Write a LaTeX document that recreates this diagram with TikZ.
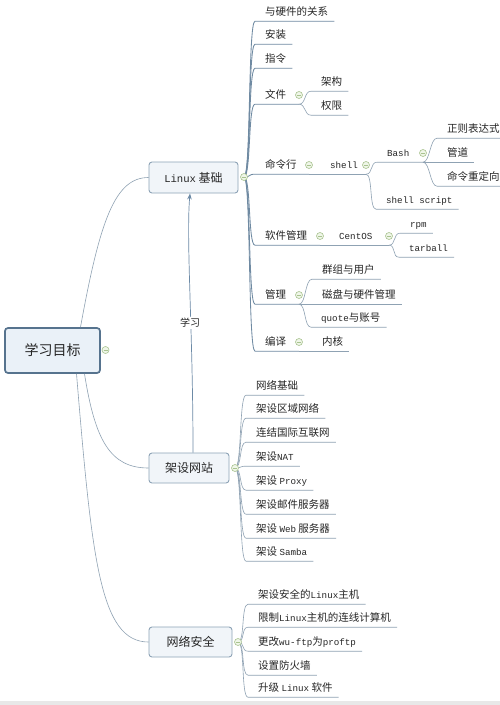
\documentclass[tikz,border=0pt]{standalone}
\usepackage{fontspec}
\setmainfont{Noto Sans CJK SC}
\newfontfamily\monof{Liberation Mono}
\usetikzlibrary{arrows.meta,calc}
\newcommand\tm[1]{{\monof\fontsize{9.2}{10}\selectfont #1}}
\newcommand\tmb[1]{{\monof\fontsize{10.6}{12}\selectfont #1}}
\definecolor{connc}{HTML}{8FA2B3}
\definecolor{connm}{HTML}{6F8AA2}
\definecolor{boxline}{HTML}{8DA3B6}
\definecolor{boxfill}{HTML}{F1F5F9}
\definecolor{rootline}{HTML}{56738E}
\definecolor{rootfill}{HTML}{EAF1F8}
\definecolor{foldline}{HTML}{A9C390}
\definecolor{foldfill}{HTML}{EFF6E8}
\definecolor{txt}{HTML}{262626}
\definecolor{arrc}{HTML}{6C8AA6}
\newcommand\lf[2]{\draw[lk] (#1) .. controls +(7,0) and +(-7,0) .. ([xshift=-10pt]#2.south west) -- ([xshift=6pt]#2.south east);}
\newcommand\pf[3]{\draw[lk] (#1) .. controls +(7,0) and +(-7,0) .. ([xshift=-10pt]#2.south west) -- (#3 |- #2.south);}
\newcommand\lfm[2]{\draw[lkm] (#1) .. controls +(7,0) and +(-7,0) .. ([xshift=-10pt]#2.south west) -- ([xshift=6pt]#2.south east);}
\newcommand\pfm[3]{\draw[lkm] (#1) .. controls +(7,0) and +(-7,0) .. ([xshift=-10pt]#2.south west) -- (#3 |- #2.south);}
\begin{document}
\begin{tikzpicture}[x=1pt,y=-1pt,
  font=\fontsize{10.5}{12}\selectfont,
  leafnode/.style={anchor=west, inner xsep=0pt, inner ysep=4pt, text height=8.5pt, text depth=1.5pt, text=txt},
  l1box/.style={draw=boxline, fill=boxfill, rounded corners=3pt, line width=0.9pt, font=\fontsize{12}{14}\selectfont, text=txt, inner sep=0pt},
  rootnode/.style={l1box, draw=rootline, line width=1.7pt, fill=rootfill, font=\fontsize{14}{16}\selectfont},
  foldc/.style={circle, draw=foldline, fill=foldfill, inner sep=0pt, minimum size=7pt, line width=0.6pt,
    path picture={\draw[foldline, line width=0.7pt] ([xshift=-2pt]path picture bounding box.center) -- ([xshift=2pt]path picture bounding box.center);}},
  lk/.style={draw=connc, line width=0.6pt},
  lkm/.style={draw=connm, line width=0.85pt},
  arr/.style={draw=arrc, line width=0.7pt, -{Stealth[length=6pt,width=4.5pt]}}
]
\useasboundingbox (0,0) rectangle (500,705);
\fill[white] (0,0) rectangle (500,705);
\fill[black!9] (0,701) rectangle (500,705);

% main boxes
\node[rootnode, minimum width=95pt, minimum height=45pt] (root) at (52.5,350.5) {学习目标};
\node[l1box, minimum width=89pt, minimum height=31pt] (lin) at (193.5,177.5) {\tmb{Linux} 基础};
\node[l1box, minimum width=80pt, minimum height=30pt] (web) at (189,468) {架设网站};
\node[l1box, minimum width=83pt, minimum height=30pt] (sec) at (190.5,642) {网络安全};

% fold points
\coordinate (cR) at (105.5,350);
\coordinate (cL) at (244,177);
\coordinate (cW) at (235,468);
\coordinate (cS) at (238,642);
\coordinate (c4) at (299,95);
\coordinate (c5) at (309,165);
\coordinate (c51) at (366,165);
\coordinate (c511) at (423,153);
\coordinate (c6) at (320,236);
\coordinate (c61) at (389,236);
\coordinate (c7) at (299,295);
\coordinate (c8) at (299,342);

% Linux leaves
\node[leafnode] (h1) at (265,12) {与硬件的关系};
\node[leafnode] (h2) at (265,35) {安装};
\node[leafnode] (h3) at (265,59) {指令};
\node[leafnode] (h4) at (265,95) {文件};
\node[leafnode] (h41) at (321,82) {架构};
\node[leafnode] (h42) at (321,106) {权限};
\node[leafnode] (h5) at (265,165) {命令行};
\node[leafnode] (h51) at (330,165) {\tm{shell}};
\node[leafnode] (h511) at (387,153) {\tm{Bash}};
\node[leafnode] (h5111) at (447,129) {正则表达式};
\node[leafnode] (h5112) at (447,153) {管道};
\node[leafnode] (h5113) at (447,177) {命令重定向};
\node[leafnode] (h512) at (386,200) {\tm{shell script}};
\node[leafnode] (h6) at (265,236) {软件管理};
\node[leafnode] (h61) at (339,236) {\tm{CentOS}};
\node[leafnode] (h611) at (410,224) {\tm{rpm}};
\node[leafnode] (h612) at (409,248) {\tm{tarball}};
\node[leafnode] (h7) at (265,295) {管理};
\node[leafnode] (h71) at (322,270) {群组与用户};
\node[leafnode] (h72) at (322,295) {磁盘与硬件管理};
\node[leafnode] (h73) at (321,318) {\tm{quote}与账号};
\node[leafnode] (h8) at (265,342) {编译};
\node[leafnode] (h81) at (322,342) {内核};

% web leaves
\node[leafnode] (w1) at (256,386) {网络基础};
\node[leafnode] (w2) at (256,409) {架设区域网络};
\node[leafnode] (w3) at (256,433) {连结国际互联网};
\node[leafnode] (w4) at (256,457) {架设\tm{NAT}};
\node[leafnode] (w5) at (256,481) {架设 \tm{Proxy}};
\node[leafnode] (w6) at (256,505) {架设邮件服务器};
\node[leafnode] (w7) at (256,529) {架设 \tm{Web} 服务器};
\node[leafnode] (w8) at (256,552) {架设 \tm{Samba}};

% security leaves
\node[leafnode] (s1) at (258,595) {架设安全的\tm{Linux}主机};
\node[leafnode] (s2) at (258,618) {限制\tm{Linux}主机的连线计算机};
\node[leafnode] (s3) at (258,642) {更改\tm{wu-ftp}为\tm{proftp}};
\node[leafnode] (s4) at (258,666) {设置防火墙};
\node[leafnode] (s5) at (258,688) {升级 \tm{Linux} 软件};

% root connectors
\draw[lk] ([xshift=28pt]root.north) .. controls (100,220) and (115,177.5) .. (lin.west);
\draw[lk] ([xshift=32pt]root.south) .. controls (95,440) and (110,468) .. (web.west);
\draw[lk] ([xshift=24pt]root.south) .. controls (92,560) and (100,642) .. (sec.west);

% Linux branch
\lfm{cL}{h1}
\lfm{cL}{h2}
\lfm{cL}{h3}
\pfm{cL}{h4}{c4}
\lf{c4 |- h4.south}{h41}
\lf{c4 |- h4.south}{h42}
\pfm{cL}{h5}{c5}
\pf{c5 |- h5.south}{h51}{c51}
\pf{c51 |- h51.south}{h511}{c511}
\lf{c511 |- h511.south}{h5111}
\lf{c511 |- h511.south}{h5112}
\lf{c511 |- h511.south}{h5113}
\lf{c51 |- h51.south}{h512}
\pfm{cL}{h6}{c6}
\pf{c6 |- h6.south}{h61}{c61}
\lf{c61 |- h61.south}{h611}
\lf{c61 |- h61.south}{h612}
\pfm{cL}{h7}{c7}
\lf{c7 |- h7.south}{h71}
\lf{c7 |- h7.south}{h72}
\lf{c7 |- h7.south}{h73}
\pfm{cL}{h8}{c8}
\lf{c8 |- h8.south}{h81}

% web branch
\foreach \w in {w1,w2,w3,w4,w5,w6,w7,w8} {\lf{cW}{\w}}
% security branch
\foreach \s in {s1,s2,s3,s4,s5} {\lf{cS}{\s}}

% learning arrow
\draw[arr] ([xshift=4pt]web.north) .. controls (193,330) and (186,240) .. ([xshift=-3.5pt]lin.south);
\node[fill=white, inner sep=1pt, text=txt, font=\fontsize{10}{12}\selectfont] (lbl) at (190,323) {学习};

% fold markers
\foreach \c in {cR,cL,cW,cS,c4,c5,c51,c511,c6,c61,c7,c8} {\node[foldc] (n\c) at (\c) {};}
\end{tikzpicture}
\end{document}
